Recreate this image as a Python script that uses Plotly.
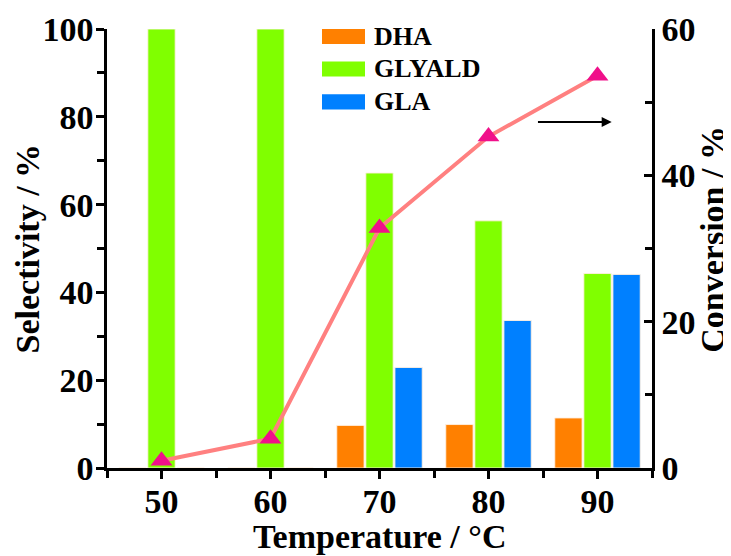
import plotly.graph_objects as go

temps = [50, 60, 70, 80, 90]
dha = [0, 0, 9.7, 9.9, 11.4]
glyald = [100, 100, 67.2, 56.3, 44.3]
gla = [0, 0, 22.9, 33.6, 44.1]
conversion = [1.0, 4.0, 32.8, 45.3, 53.6]

series_names = ["DHA", "GLYALD", "GLA"]
series_colors = ["#FF8000", "#80FF00", "#0080FF"]

FONT = "Liberation Serif"
fig = go.Figure()

for name, vals, col in zip(series_names, [dha, glyald, gla], series_colors):
    fig.add_trace(go.Bar(x=temps, y=vals, name=name,
                         marker=dict(color=col, line=dict(color="rgba(255,240,225,0.9)", width=1)),
                         showlegend=False, yaxis="y"))

fig.add_trace(go.Scatter(x=temps, y=conversion, yaxis="y2", mode="lines+markers", name="Conversion",
                         line=dict(color="#FF8080", width=4),
                         marker=dict(symbol="triangle-up", size=19, color="#F0108A"),
                         showlegend=False))

fig.add_annotation(x=91.3, y=47.3, ax=84.4, ay=47.3, xref="x", yref="y2", axref="x", ayref="y2",
                   showarrow=True, arrowhead=2, arrowsize=1, arrowwidth=2, arrowcolor="black", text="")

# legend (wide swatches as in the original)
leg_rows = [0.983, 0.909, 0.834]
for name, col, yc in zip(series_names, series_colors, leg_rows):
    fig.add_shape(type="rect", xref="paper", yref="paper", x0=0.3945, x1=0.4734,
                  y0=yc - 0.0171, y1=yc + 0.0171, fillcolor=col, line=dict(width=0))
    fig.add_annotation(text=name, xref="paper", yref="paper", x=0.487, y=yc, xanchor="left",
                       yanchor="middle", showarrow=False,
                       font=dict(family=FONT, size=26, color="black", weight="bold"))

tfont = dict(family=FONT, size=34, color="black", weight="bold")
titlefont = dict(family=FONT, size=34, color="black", weight="bold")

# axis titles
fig.add_annotation(text="Temperature / °C", xref="paper", yref="paper", x=0.5, y=0, yshift=-68,
                   showarrow=False, font=titlefont, xanchor="center", yanchor="middle")
fig.add_annotation(text="Selectivity / %", xref="paper", yref="paper", x=0, y=0.5, xshift=-80,
                   showarrow=False, font=titlefont, textangle=-90, xanchor="center", yanchor="middle")
fig.add_annotation(text="Conversion / %", xref="paper", yref="paper", x=1, y=0.52, xshift=61,
                   showarrow=False, font=titlefont, textangle=-90, xanchor="center", yanchor="middle")

axis_common = dict(showline=True, linecolor="black", linewidth=2.5, showgrid=False, zeroline=False,
                   tickcolor="black", tickwidth=2.5, ticklen=8, automargin=False,
                   tickfont=tfont)

fig.update_layout(
    width=731, height=556,
    margin=dict(l=99, r=87, t=21, b=96),
    plot_bgcolor="white", paper_bgcolor="white",
    barmode="group", bargap=0.2, bargroupgap=0.06,
    font=dict(family=FONT, color="black"),
    showlegend=False,
    xaxis=dict(range=[45, 95], tickvals=temps, ticks="outside", ticklabelstandoff=-7,
               minor=dict(tick0=45, dtick=5, ticks="outside", ticklen=7, tickwidth=2.5, tickcolor="black"),
               **axis_common),
    yaxis=dict(range=[0, 100], dtick=20, ticks="outside", ticklabelstandoff=-4,
               minor=dict(dtick=10, ticks="outside", ticklen=7, tickwidth=2.5, tickcolor="black"),
               **axis_common),
    yaxis2=dict(range=[0, 60], dtick=20, ticks="inside", side="right", overlaying="y",
                minor=dict(dtick=10, ticks="inside", ticklen=7, tickwidth=2.5, tickcolor="black"),
                **axis_common),
)

fig.write_html("out.html")
